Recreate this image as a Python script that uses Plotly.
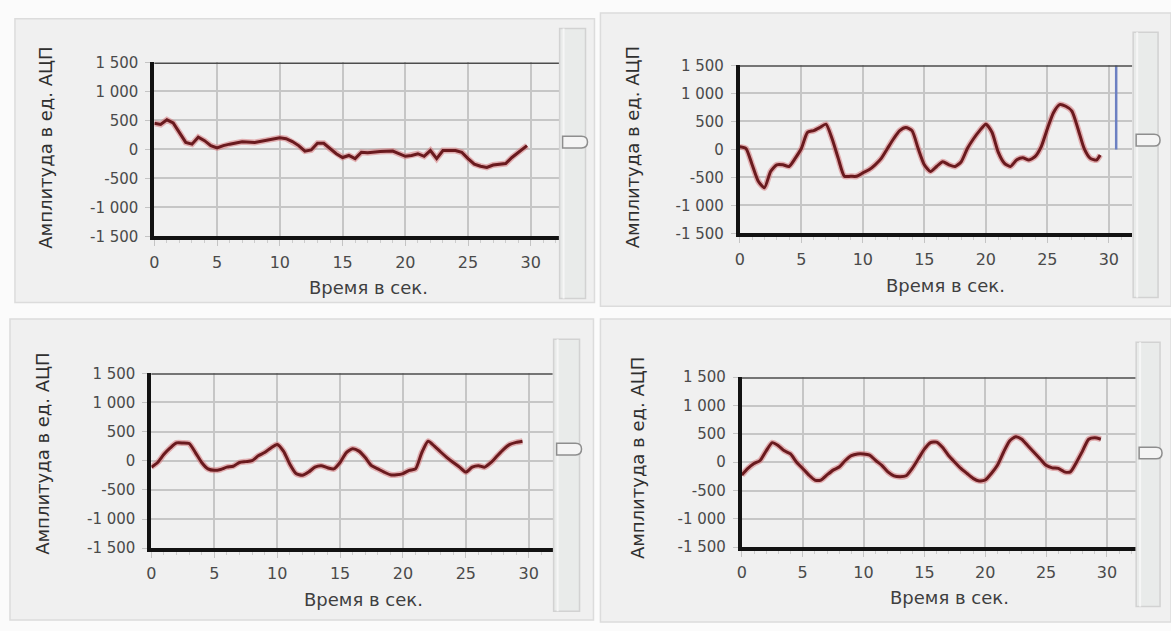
import plotly.graph_objects as go

W, H = 1171, 631
FONT = "DejaVu Sans"

# ---- data -----------------------------------------------------------------
x_tick_vals = [0, 5, 10, 15, 20, 25, 30]
y_tick_vals = [1500, 1000, 500, 0, -500, -1000, -1500]
y_tick_text = ["1 500", "1 000", "500", "0", "-500", "-1 000", "-1 500"]

t1 = [0, 0.5, 1, 1.5, 2, 2.5, 3, 3.5, 4, 4.5, 5, 5.5, 6, 7, 8, 9, 10, 10.5, 11, 11.5,
      12, 12.5, 13, 13.5, 14, 14.5, 15, 15.5, 16, 16.5, 17, 18, 19, 20, 20.5, 21, 21.5, 22, 22.5, 23,
      24, 24.5, 25, 25.5, 26, 26.5, 27, 28, 28.5, 29, 29.5, 29.7]
a1 = [450, 430, 510, 455, 290, 120, 90, 210, 150, 65, 25, 65, 90, 130, 120, 160, 200, 185, 135, 65,
      -30, -10, 105, 105, 10, -75, -140, -105, -160, -50, -60, -35, -30, -120, -105, -75, -120, -20, -160, -20,
      -20, -50, -160, -255, -290, -310, -270, -245, -140, -50, 35, 65]

t2 = [0, 0.5, 1, 1.5, 2, 2.5, 3, 3.5, 4, 4.5, 5, 5.5, 6, 6.5, 7, 7.5, 8, 8.5, 9, 9.5,
      10, 10.5, 11, 11.5, 12, 12.5, 13, 13.5, 14, 14.5, 15, 15.5, 16, 16.5, 17, 17.5, 18, 18.5, 19, 19.5,
      20, 20.5, 21, 21.5, 22, 22.5, 23, 23.5, 24, 24.5, 25, 25.5, 26, 26.5, 27, 27.5, 28, 28.5, 29, 29.3]
a2 = [45, 15, -275, -570, -685, -395, -275, -275, -305, -160, 15, 305, 335, 390, 450, 190, -160, -480, -480, -480,
      -420, -365, -275, -160, 15, 190, 335, 390, 335, 15, -275, -395, -305, -220, -275, -305, -220, 15, 190, 335,
      450, 305, -45, -245, -305, -190, -150, -190, -130, 45, 365, 655, 800, 770, 685, 365, 15, -160, -190, -100]
cursor_t = 30.6

t3 = [0, 0.5, 1, 1.5, 2, 2.5, 3, 3.5, 4, 4.5, 5, 5.5, 6, 6.5, 7, 7.5, 8, 8.5, 9, 9.5,
      10, 10.5, 11, 11.5, 12, 12.5, 13, 13.5, 14, 14.5, 15, 15.5, 16, 16.5, 17, 17.5, 18, 18.5, 19, 19.5,
      20, 20.5, 21, 21.5, 22, 22.5, 23, 23.5, 24, 24.5, 25, 25.5, 26, 26.5, 27, 27.5, 28, 28.5, 29, 29.5]
a3 = [-110, -30, 110, 220, 305, 305, 295, 140, -30, -140, -165, -150, -110, -95, -30, -15, 0, 85, 140, 220,
      280, 165, -55, -220, -250, -195, -110, -85, -120, -140, -30, 140, 205, 165, 55, -85, -140, -195, -240, -240,
      -220, -165, -140, 140, 335, 250, 150, 55, -30, -110, -195, -110, -85, -110, -30, 85, 195, 280, 315, 335]

t4 = list(t3)
a4 = [-225, -110, -25, 30, 200, 345, 290, 200, 145, 0, -110, -225, -315, -315, -225, -140, -85, 30, 115, 145,
      145, 125, 30, -55, -170, -240, -255, -240, -110, 60, 230, 345, 355, 260, 115, 0, -110, -200, -285, -330,
      -315, -200, -55, 175, 375, 450, 405, 290, 175, 60, -55, -100, -110, -170, -170, 0, 200, 405, 430, 405]

# ---- layout geometry (pixels) ----------------------------------------------
# plot boxes: left, top, right, bottom
boxes = [(150, 55, 557, 234), (738, 58, 1132, 231), (147, 375, 550, 555), (740, 379, 1136, 554)]
x_max = [32.3, 31.9, 31.9, 32.4]
panels = [(10, 10, 592, 302), (598, 4, 1171, 306), (5, 319, 591, 629), (598, 319, 1171, 631)]
sliders = [(557, 20, 583, 298, 137), (1133, 24, 1158, 297, 135), (551, 340, 577, 620, 453), (1136, 343, 1160, 615, 457)]
ytitle_pos = [(41, 143), (631, 142), (38, 458), (636, 462)]
xtitle_pos = [(365, 287), (945, 285), (360, 608), (949, 606)]

def px(x):
    return x / W

def py(y):
    return 1 - y / H

LINE_DARK = "#6a1a1e"
LINE_HALO = "rgba(214,120,124,0.55)"
GRID = "#c6c6c6"

fig = go.Figure()
series = [(t1, a1, "linear"), (t2, a2, "spline"), (t3, a3, "spline"), (t4, a4, "spline")]
shapes, annotations = [], []

for i, ((t, a, shape), box) in enumerate(zip(series, boxes)):
    sfx = "" if i == 0 else str(i + 1)
    xa, ya = "x" + sfx, "y" + sfx
    fig.add_trace(go.Scatter(x=t, y=a, xaxis=xa, yaxis=ya, mode="lines",
                             line=dict(color=LINE_HALO, width=6, shape=shape, smoothing=0.6),
                             hoverinfo="skip", showlegend=False))
    fig.add_trace(go.Scatter(x=t, y=a, xaxis=xa, yaxis=ya, mode="lines",
                             line=dict(color=LINE_DARK, width=3, shape=shape, smoothing=0.6),
                             showlegend=False))
    l, top, r, b = box
    fig.layout["xaxis" + sfx] = dict(
        domain=[px(l), px(r)], anchor=ya, range=[0, x_max[i]],
        tickvals=x_tick_vals, showgrid=True, gridcolor=GRID, gridwidth=2, zeroline=False,
        showline=True, linecolor="#121212", linewidth=4,
        ticks="outside", ticklen=6, tickcolor="#c4c4c4", tickwidth=1, ticklabelstandoff=2,
        minor=dict(dtick=1, ticks="outside", ticklen=3, tickcolor="#cccccc", showgrid=False),
        tickfont=dict(family=FONT, size=16, color="#4a4a4a"), fixedrange=True)
    fig.layout["yaxis" + sfx] = dict(
        domain=[py(b), py(top)], anchor=xa, range=[-1500, 1500],
        tickvals=y_tick_vals, ticktext=y_tick_text, showgrid=True, gridcolor=GRID, gridwidth=2,
        zeroline=False, showline=True, linecolor="#121212", linewidth=4,
        ticks="outside", ticklen=5, tickcolor="#c4c4c4", ticklabelstandoff=4,
        tickfont=dict(family=FONT, size=15, color="#4a4a4a"), fixedrange=True)
    # plot area background, beneath the grid
    shapes.append(dict(type="rect", xref=xa + " domain", yref=ya + " domain", x0=0, x1=1, y0=0, y1=1,
                       fillcolor="#f9f9f9", line=dict(width=0), layer="below"))
    # top border of the plot area
    shapes.append(dict(type="line", xref=xa + " domain", yref=ya, x0=0, x1=1, y0=1500, y1=1500,
                       line=dict(color="#4d4d4d", width=3), layer="above"))
    # panel background
    pl, pt, pr, pb = panels[i]
    shapes.append(dict(type="rect", xref="paper", yref="paper", x0=px(pl), x1=px(pr), y0=py(pb), y1=py(pt),
                       fillcolor="#f0f0f0", line=dict(color="#dcdcdc", width=1.5), layer="below"))
    # scroll bar with thumb
    sl, st, sr, sb, sy = sliders[i]
    shapes.append(dict(type="rect", xref="paper", yref="paper", x0=px(sl), x1=px(sr), y0=py(sb), y1=py(st),
                       fillcolor="#e9ebea", line=dict(color="#d2d2d2", width=1.5)))
    shapes.append(dict(type="line", xref="paper", yref="paper", x0=px(sl + 4), x1=px(sl + 4), y0=py(sb), y1=py(st),
                       line=dict(color="#f6f6f6", width=2)))
    x0, x1, y0, y1 = sl + 3, sr + 2, sy - 6, sy + 6
    path = (f"M {px(x0)},{py(y0)} L {px(x1 - 6)},{py(y0)} Q {px(x1)},{py(y0)} {px(x1)},{py(sy)} "
            f"Q {px(x1)},{py(y1)} {px(x1 - 6)},{py(y1)} L {px(x0)},{py(y1)} Z")
    shapes.append(dict(type="path", xref="paper", yref="paper", path=path,
                       fillcolor="#f4f4f4", line=dict(color="#8e8e8e", width=1.5)))
    # axis titles
    tx, ty = ytitle_pos[i]
    annotations.append(dict(xref="paper", yref="paper", x=px(tx), y=py(ty), text="Амплитуда в ед. АЦП",
                            textangle=-90, showarrow=False, xanchor="center", yanchor="middle",
                            font=dict(family=FONT, size=18, color="#2f2f2f")))
    tx, ty = xtitle_pos[i]
    annotations.append(dict(xref="paper", yref="paper", x=px(tx), y=py(ty), text="Время в сек.",
                            showarrow=False, xanchor="center", yanchor="middle",
                            font=dict(family=FONT, size=18, color="#3f3f3f")))

# cursor marker in the second panel
fig.add_trace(go.Scatter(x=[cursor_t, cursor_t], y=[0, 1500], xaxis="x2", yaxis="y2", mode="lines",
                         line=dict(color="#6c80c2", width=2.5), showlegend=False))

fig.update_layout(width=W, height=H, margin=dict(l=0, r=0, t=0, b=0),
                  paper_bgcolor="#fbfbfb", plot_bgcolor="rgba(0,0,0,0)",
                  shapes=shapes, annotations=annotations, showlegend=False)

fig.write_html("out.html")
